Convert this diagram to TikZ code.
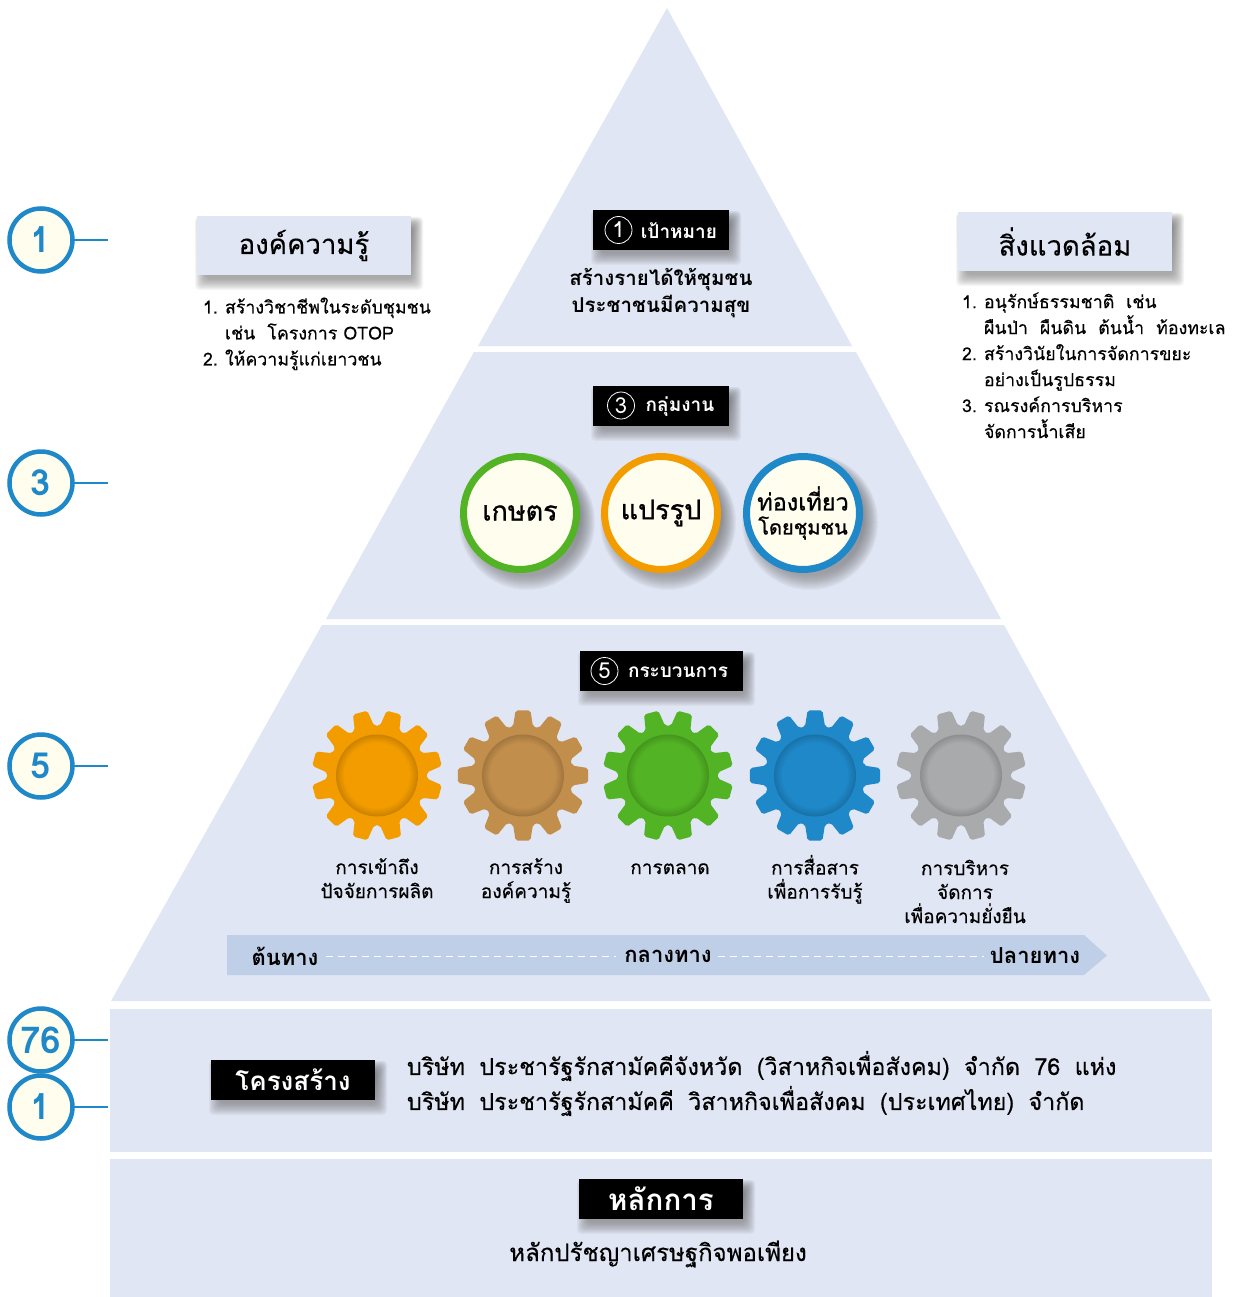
\documentclass[tikz,border=0pt]{standalone}
\usepackage{fontspec}
\setmainfont[Script=Thai]{Loma}
\newfontfamily\medf[Script=Thai,FakeBold=0.35]{Loma}
\newfontfamily\heavyf[Script=Thai,FakeBold=1.0]{Loma}
\definecolor{tier}{HTML}{E0E6F4}
\definecolor{band}{HTML}{BFCFE8}
\definecolor{cream}{HTML}{FFFDEE}
\definecolor{cblue}{HTML}{1E88C8}
\definecolor{cgreen}{HTML}{52B324}
\definecolor{corange}{HTML}{F39C00}
\definecolor{cbrown}{HTML}{C28E4C}
\definecolor{cgrey}{HTML}{A9AAAB}
\definecolor{shade}{HTML}{2A3550}
\newcommand{\fs}[1]{\fontsize{#1}{#1}\selectfont}
\newcommand{\fsl}[2]{\fontsize{#1}{#2}\selectfont}
\newcommand{\gp}{\hspace{6.5pt}}
\newcommand{\num}[1]{\makebox[22pt][l]{#1}}
\newcommand{\rectshadow}[4]{%
  \foreach \g in {-4,-3,...,7}{
    \fill[shade,opacity=.035,rounded corners=4pt] (#1+5-\g,#2+8-\g) rectangle (#3+5+\g,#4+8+\g);
  }}
\newcommand{\circshadow}[3]{%
  \foreach \g in {-6,-5,...,8}{
    \fill[shade,opacity=.026] (#1+7,#2+9) circle ({#3+\g});
  }}
% x, y, tooth offset angle, colour
\newcommand{\gearshape}[4]{%
  \begin{scope}[shift={(#1,#2)}]
    \fill[#4,rounded corners=2pt] (#3-11.5:50)
      \foreach \a in {0,30,...,330}{
        -- (#3+\a-11.5:50) -- (#3+\a-6.5:65.5) -- (#3+\a+6.5:65.5) -- (#3+\a+11.5:50)
      } -- cycle;
    \foreach \r/\m in {41/16,40/14,39/12,38/10,37/8,36/6,35/4,34/2}{
      \fill[#4!\the\numexpr100-\m\relax!black] (0,0) circle (\r);
    }
    \fill[#4] (0,0) circle (33);
  \end{scope}}
\tikzset{
  x=1pt,y=-1pt,
  every node/.style={inner sep=0pt,outer sep=0pt},
  tierfill/.style={fill=tier},
  headbox/.style={fill=tier,minimum width=214pt,minimum height=59pt,font=\medf\fs{27.5}},
  blackbox/.style={fill=black,text=white,font=\bfseries},
  numcirc/.style={circle,draw=white,line width=.8pt,minimum size=27pt,text=white,font=\fs{22}},
  badge/.style={circle,draw=cblue,line width=4.5pt,fill=cream,minimum size=63pt,text=cblue,font=\bfseries\fs{36}},
  badgeline/.style={draw=cblue,line width=2pt},
  listtext/.style={align=left,anchor=north west,font=\medf\fsl{17.8}{26}},
  gearlabel/.style={align=center,anchor=north,font=\medf\fsl{19}{24}},
  roundel/.style={circle,line width=7pt,fill=cream,minimum size=113pt,font=\heavyf\fs{27}},
  bandlabel/.style={font=\bfseries\fs{22}},
  bandline/.style={draw=white,line width=1pt,dash pattern=on 7pt off 5pt},
  cotext/.style={anchor=west,font=\medf\fs{23.3}},
}
\begin{document}
\begin{tikzpicture}
\useasboundingbox (0,0) rectangle (1232,1297);
\fill[white] (0,0) rectangle (1232,1297);
% pyramid tiers
\fill[tierfill] (667,8) -- (852,346) -- (478,346) -- cycle;
\fill[tierfill] (474,352) -- (856,352) -- (1001,619) -- (326,619) -- cycle;
\fill[tierfill] (322,625) -- (1004,625) -- (1211,1001) -- (111,1001) -- cycle;
\fill[tierfill] (110,1009) rectangle (1212,1152);
\fill[tierfill] (110,1159) rectangle (1212,1297);
% heading boxes at the sides
\rectshadow{197}{216}{411}{275}
\node[headbox] (knowhead) at (304,245.5) {องค์ความรู้};
\rectshadow{958}{212}{1172}{271}
\node[headbox] (envhead) at (1065,241.5) {สิ่งแวดล้อม};
\node[listtext] (knowlist) at (203,297.5) {\num{1.}สร้างวิชาชีพในระดับชุมชน\\\num{}เช่น\ \ โครงการ OTOP\\\num{2.}ให้ความรู้แก่เยาวชน};
\node[listtext] (envlist) at (962,292.5) {\num{1.}อนุรักษ์ธรรมชาติ\ \ เช่น\\\num{}ผืนป่า\ \ ผืนดิน\ \ ต้นน้ำ\ \ ท้องทะเล\\\num{2.}สร้างวินัยในการจัดการขยะ\\\num{}อย่างเป็นรูปธรรม\\\num{3.}รณรงค์การบริหาร\\\num{}จัดการน้ำเสีย};
% badges
\node[badge] (b1) at (41,240) {1};
\node[badge] (b3) at (41,483) {3};
\node[badge] (b5) at (41,766) {5};
\node[badge,font=\bfseries\fs{37}] (b76) at (41,1040) {76};
\node[badge] (b1b) at (41,1107) {1};
\coordinate (e1) at (108,240);
\coordinate (e3) at (108,483);
\coordinate (e5) at (108,766);
\coordinate (e76) at (108,1040);
\coordinate (e1b) at (108,1107);
\draw[badgeline] (b1) -- (e1);
\draw[badgeline] (b3) -- (e3);
\draw[badgeline] (b5) -- (e5);
\draw[badgeline] (b76) -- (e76);
\draw[badgeline] (b1b) -- (e1b);
% goal
\rectshadow{593}{210}{729}{250}
\fill[black] (593,210) rectangle (729,250);
\node[numcirc] (n1) at (618.5,230) {1};
\node[blackbox,font=\bfseries\fs{19}] (goal) at (679,231) {เป้าหมาย};
\node[align=center,font=\bfseries\fsl{20.5}{27}] (goaltext) at (661,293) {สร้างรายได้ให้ชุมชน\\ประชาชนมีความสุข};
% groups
\rectshadow{593}{386}{729}{426}
\fill[black] (593,386) rectangle (729,426);
\node[numcirc] (n3) at (621,405.5) {3};
\node[blackbox,font=\bfseries\fs{19}] (groups) at (680,407) {กลุ่มงาน};
\circshadow{520}{513}{60}
\circshadow{661}{513}{60}
\circshadow{803}{513}{60}
\node[roundel,draw=cgreen] (agri) at (520,513) {\raisebox{-5pt}{เกษตร}};
\node[roundel,draw=corange] (proc) at (661,513) {\raisebox{-5pt}{แปรรูป}};
\node[roundel,draw=cblue,align=center,font=\heavyf\fsl{23.5}{24}] (tour) at (803,513) {ท่องเที่ยว\\{\fs{20}โดยชุมชน}};
% process
\rectshadow{580}{651}{743}{691}
\fill[black] (580,651) rectangle (743,691);
\node[numcirc] (n5) at (604.5,671) {5};
\node[blackbox,font=\bfseries\fs{19}] (proctitle) at (678,672) {กระบวนการ};
\gearshape{377}{775.5}{15}{corange}
\gearshape{523}{775.5}{0}{cbrown}
\gearshape{668}{775.5}{15}{cgreen}
\gearshape{815}{775.5}{0}{cblue}
\gearshape{961}{775.5}{15}{cgrey}
\node[gearlabel] (g1) at (377,855) {\rule{0pt}{19pt}การเข้าถึง\\ปัจจัยการผลิต};
\node[gearlabel] (g2) at (526,855) {\rule{0pt}{19pt}การสร้าง\\องค์ความรู้};
\node[gearlabel] (g3) at (670,855) {\rule{0pt}{19pt}การตลาด};
\node[gearlabel] (g4) at (815,855) {\rule{0pt}{19pt}การสื่อสาร\\เพื่อการรับรู้};
\node[gearlabel] (g5) at (965,856) {\rule{0pt}{19pt}การบริหาร\\จัดการ\\เพื่อความยั่งยืน};
% path band
\fill[band] (227,935) -- (1084,935) -- (1107,955.5) -- (1084,975) -- (227,975) -- cycle;
\node[bandlabel] (start) at (285,956) {ต้นทาง};
\node[bandlabel] (mid) at (668,956) {กลางทาง};
\node[bandlabel] (end) at (1035,956) {ปลายทาง};
\draw[bandline] ([xshift=8pt]start.east) -- ([xshift=-8pt]mid.west);
\draw[bandline] ([xshift=6pt]mid.east) -- ([xshift=-6pt]end.west);
% structure
\rectshadow{211}{1060}{375}{1100}
\node[blackbox,fill=black,minimum width=164pt,minimum height=40pt,font=\bfseries\fs{26}] (struct) at (293,1080) {โครงสร้าง};
\node[cotext] (co1) at (407,1066) {บริษัท\gp{} ประชารัฐรักสามัคคีจังหวัด\gp{} (วิสาหกิจเพื่อสังคม)\gp{} จำกัด\gp{} 76\gp{} แห่ง};
\node[cotext] (co2) at (407,1101) {บริษัท\gp{} ประชารัฐรักสามัคคี\gp{} วิสาหกิจเพื่อสังคม\gp{} (ประเทศไทย)\gp{} จำกัด};
% principle
\rectshadow{579}{1179}{743}{1219}
\node[blackbox,fill=black,minimum width=164pt,minimum height=40pt,font=\bfseries\fs{29.5}] (princ) at (661,1199) {หลักการ};
\node[font=\medf\fs{24}] (princtext) at (658,1254) {หลักปรัชญาเศรษฐกิจพอเพียง};
\end{tikzpicture}
\end{document}
